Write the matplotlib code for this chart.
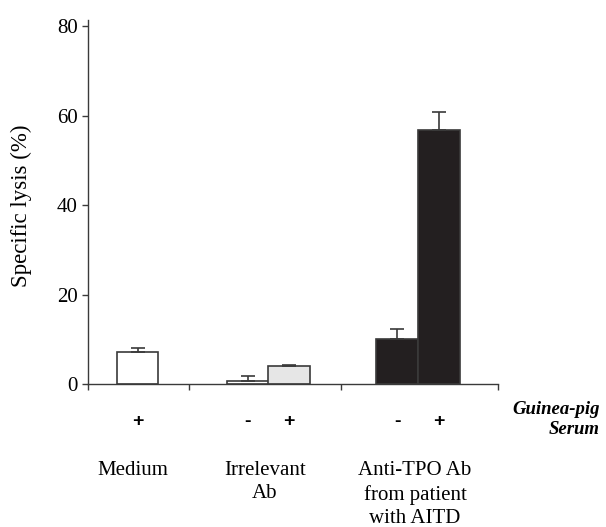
import matplotlib
matplotlib.use("Agg")
import matplotlib.pyplot as plt
from matplotlib.transforms import blended_transform_factory

# ---- data ----
categories = ["Medium", "Irrelevant\nAb", "Anti-TPO Ab\nfrom patient\nwith AITD"]
serum_labels = ["+", "-", "+", "-", "+"]
values = [7.3, 0.8, 4.0, 10.1, 56.8]
errors = [0.7, 1.1, 0.3, 2.3, 4.0]
y_ticks = [0, 20, 40, 60, 80]
y_label = "Specific lysis (%)"
serum_title = "Guinea-pig\nSerum"

# ---- layout / style ----
bar_x = [1.19, 3.83, 4.82, 7.41, 8.42]
cat_x = [1.07, 4.24, 7.84]
sep_ticks = [0, 2.42, 6.07, 9.83]
bar_colors = ["#ffffff", "#ffffff", "#e6e6e6", "#231f20", "#231f20"]
edge = "#3a3a3a"

serif = ["Liberation Serif", "DejaVu Serif"]
sans = ["Liberation Sans", "DejaVu Sans"]

fig = plt.figure(figsize=(6.06, 5.27), dpi=100)
ax = fig.add_axes([0.1452, 0.2708, 0.8218 - 0.1452, 0.692])

ax.bar(bar_x, values, width=1.0, color=bar_colors, edgecolor=edge, linewidth=1.2, zorder=2)
ax.errorbar(bar_x, values, yerr=[[0] * len(errors), errors], fmt="none",
            ecolor=edge, elinewidth=1.2, capsize=4.7, capthick=1.2, zorder=3)

ax.set_xlim(0, 9.83)
ax.set_ylim(0, 81.5)
ax.set_yticks(y_ticks)
ax.set_yticklabels([str(t) for t in y_ticks], fontfamily=serif, fontsize=15)
ax.set_xticks(sep_ticks)
ax.set_xticklabels([""] * len(sep_ticks))

for s in ["top", "right"]:
    ax.spines[s].set_visible(False)
for s in ["left", "bottom"]:
    ax.spines[s].set_color(edge)
    ax.spines[s].set_linewidth(1.0)
ax.tick_params(axis="both", direction="out", length=4.5, width=1.0, color=edge, pad=3)

ax.set_ylabel(y_label, fontfamily=serif, fontsize=16.5)
ax.yaxis.set_label_coords(-0.137, 0.49)

trans = blended_transform_factory(ax.transData, fig.transFigure)
for x, lab in zip(bar_x, serum_labels):
    ax.text(x, 0.201, lab, transform=trans, ha="center", va="center",
            fontfamily=sans, fontweight="bold", fontsize=14)
for x, lab in zip(cat_x, categories):
    ax.text(x, 0.125, lab, transform=trans, ha="center", va="top",
            fontfamily=serif, fontsize=15, linespacing=1.3)

fig.text(0.99, 0.204, serum_title, ha="right", va="center", fontfamily=serif,
         fontweight="bold", fontstyle="italic", fontsize=13.5, multialignment="right",
         linespacing=1.3)

fig.savefig("out.png", dpi=100)
